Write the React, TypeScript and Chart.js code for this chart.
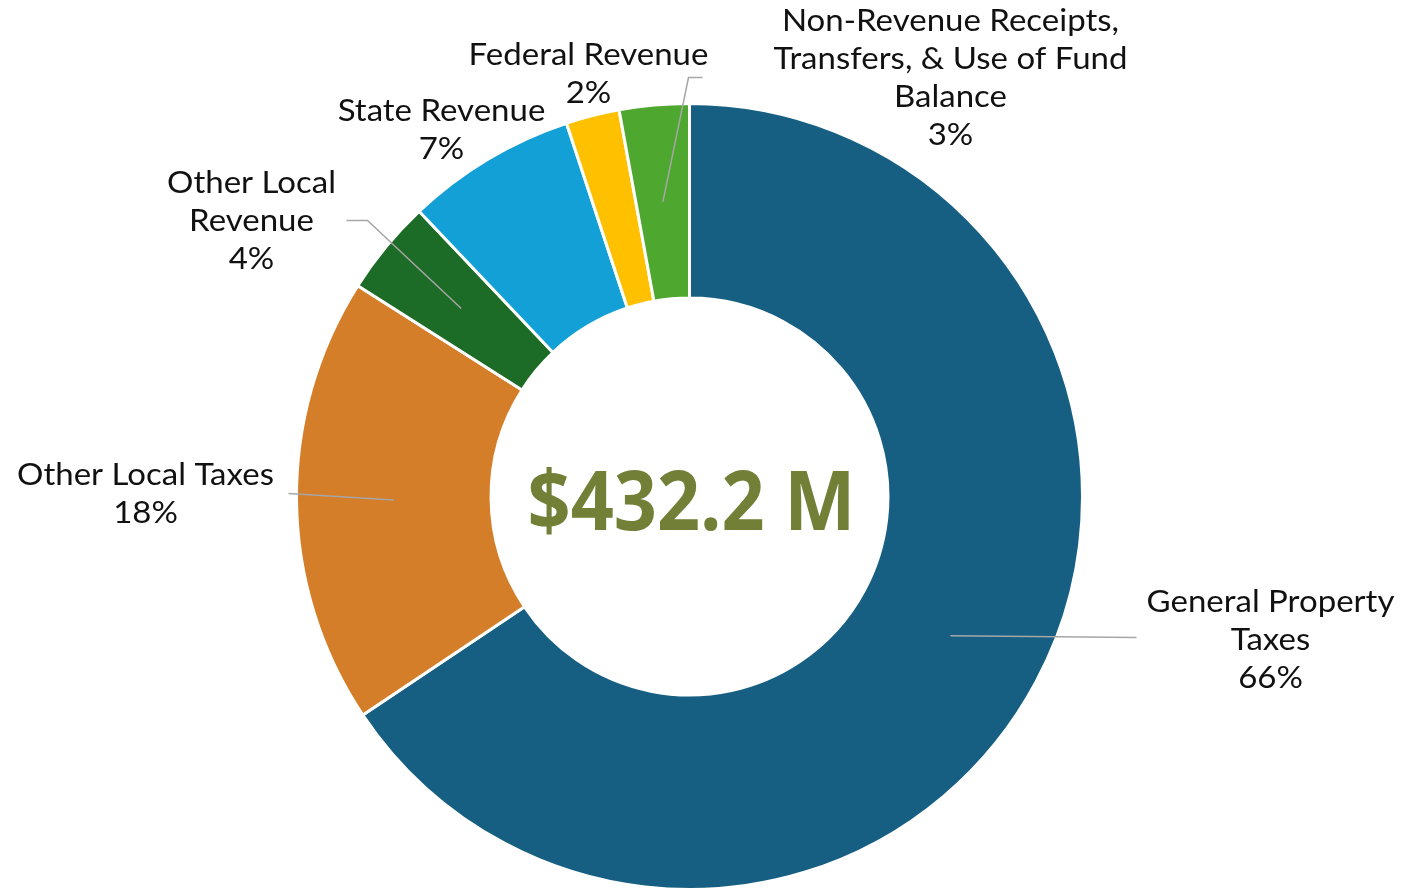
import React, { useEffect, useRef } from "react";
import { Chart, registerables } from "chart.js";

Chart.register(...registerables);

// ---- data (millions of dollars) ----
const categories = [
  "General Property Taxes",
  "Other Local Taxes",
  "Other Local Revenue",
  "State Revenue",
  "Federal Revenue",
  "Non-Revenue Receipts, Transfers, & Use of Fund Balance",
];
const values = [283.6, 79.5, 16.9, 30.3, 9.5, 12.4];
const labelLines = [
  ["General Property", "Taxes"],
  ["Other Local Taxes"],
  ["Other Local", "Revenue"],
  ["State Revenue"],
  ["Federal Revenue"],
  ["Non-Revenue Receipts,", "Transfers, & Use of Fund", "Balance"],
];
const colors = ["#175F82", "#D47E2A", "#1C6B26", "#12A0D7", "#FFC000", "#4EA72E"];

// ---- label layout (offsets from chart centre, px) ----
const labelOffsets = [
  { dx: 581, dy: 106 },
  { dx: -544, dy: -21 },
  { dx: -438, dy: -313 },
  { dx: -248, dy: -385 },
  { dx: -101, dy: -441 },
  { dx: 261, dy: -475 },
];
// leader line points after the slice anchor (offsets from centre); empty = none
const leaderPoints: { dx: number; dy: number }[][] = [
  [{ dx: 447, dy: 141 }],
  [{ dx: -401, dy: -3 }],
  [{ dx: -322, dy: -276 }, { dx: -343, dy: -276 }],
  [],
  [],
  [{ dx: -1, dy: -419 }, { dx: 13, dy: -419 }],
];

const LABEL_FONT = "Lato";
const LABEL_SIZE = 30;
const LABEL_STRETCH = 1.1;
const LINE_H = 38;

const labelsPlugin = {
  id: "customLabels",
  afterDatasetsDraw(chart: any) {
    const ctx = chart.ctx;
    const meta = chart.getDatasetMeta(0);
    const total = values.reduce((a, b) => a + b, 0);
    const first = meta.data[0];
    const cx = first.x;
    const cy = first.y;
    ctx.save();
    // leader lines
    meta.data.forEach((arc: any, i: number) => {
      const pts = leaderPoints[i];
      if (!pts.length) return;
      const mid = (arc.startAngle + arc.endAngle) / 2;
      const r = (arc.innerRadius + arc.outerRadius) / 2;
      ctx.beginPath();
      ctx.moveTo(cx + Math.cos(mid) * r, cy + Math.sin(mid) * r);
      pts.forEach((p) => ctx.lineTo(cx + p.dx, cy + p.dy));
      ctx.strokeStyle = "#A6A6A6";
      ctx.lineWidth = 1.5;
      ctx.stroke();
    });
    // text labels
    ctx.fillStyle = "#111111";
    ctx.font = `400 ${LABEL_SIZE}px ${LABEL_FONT}`;
    ctx.textAlign = "center";
    ctx.textBaseline = "middle";
    labelLines.forEach((lines, i) => {
      const pct = Math.round((values[i] / total) * 100) + "%";
      const all = [...lines, pct];
      const o = labelOffsets[i];
      all.forEach((t, k) => {
        ctx.save();
        ctx.translate(cx + o.dx, cy + o.dy + k * LINE_H);
        ctx.scale(LABEL_STRETCH, 1);
        ctx.fillText(t, 0, 0);
        ctx.restore();
      });
    });
    // centre total
    const txt = "$" + total.toFixed(1) + " M";
    ctx.font = "bold 82px 'Open Sans'";
    ctx.textAlign = "left";
    ctx.textBaseline = "alphabetic";
    const w = ctx.measureText(txt).width;
    const targetW = 328;
    const sx = targetW / w;
    ctx.translate(cx - targetW / 2 + 2, cy + 33);
    ctx.scale(sx, 1);
    ctx.fillStyle = "#717F37";
    ctx.fillText(txt, 0, 0);
    ctx.restore();
  },
};

export default function App() {
  const ref = useRef<HTMLCanvasElement | null>(null);
  useEffect(() => {
    if (!ref.current) return;
    const chart = new Chart(ref.current, {
      type: "doughnut",
      data: {
        labels: categories,
        datasets: [
          {
            data: values,
            backgroundColor: colors,
            borderColor: "#FFFFFF",
            borderWidth: 3,
          },
        ],
      },
      options: {
        animation: false,
        responsive: true,
        maintainAspectRatio: false,
        cutout: "50.5%",
        layout: { padding: { top: 102, bottom: 0, left: 295, right: 320 } },
        plugins: {
          legend: { display: false },
          tooltip: { enabled: false },
        },
      },
      plugins: [labelsPlugin],
    });
    return () => chart.destroy();
  }, []);
  return (
    <div style={{ position: "absolute", left: 0, top: 0, width: 1404, height: 891, background: "#fff" }}>
      <canvas ref={ref} />
    </div>
  );
}
